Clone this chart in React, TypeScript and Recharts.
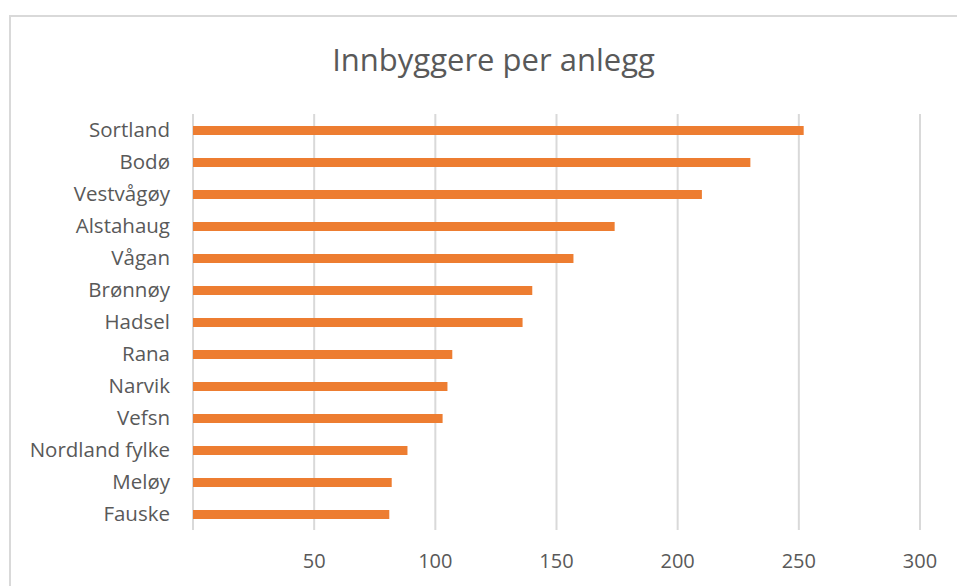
import { Bar, BarChart, CartesianGrid, XAxis, YAxis } from "recharts";

const places = [
  "Sortland",
  "Bodø",
  "Vestvågøy",
  "Alstahaug",
  "Vågan",
  "Brønnøy",
  "Hadsel",
  "Rana",
  "Narvik",
  "Vefsn",
  "Nordland fylke",
  "Meløy",
  "Fauske",
];
const residentsPerFacility = [252, 230, 210, 174, 157, 140, 136, 107, 105, 103, 88.5, 82, 81];
const xTicks = [0, 50, 100, 150, 200, 250, 300];

const data = places.map((name, i) => ({ name, value: residentsPerFacility[i] }));

const textColor = "#595959";
const font = "'Open Sans', sans-serif";

export default function App() {
  return (
    <div style={{ position: "absolute", left: 0, top: 0, width: 957, height: 586, background: "#fff", overflow: "hidden", fontFamily: font }}>
      <div
        style={{
          position: "absolute",
          left: 9,
          top: 15,
          width: 960,
          height: 600,
          borderLeft: "2px solid #d9d9d9",
          borderTop: "2px solid #d9d9d9",
        }}
      />
      <div
        style={{
          position: "absolute",
          left: 0,
          top: 40,
          width: 987,
          textAlign: "center",
          fontSize: 31,
          color: textColor,
          lineHeight: "38px",
        }}
      >
        Innbyggere per anlegg
      </div>
      <div style={{ position: "absolute", left: 0, top: 0 }}>
        <BarChart
          width={957}
          height={586}
          data={data}
          layout="vertical"
          margin={{ top: 114, right: 37, left: 0, bottom: 0 }}
          barSize={9}
        >
          <CartesianGrid horizontal={false} stroke="#d9d9d9" strokeWidth={2} verticalValues={xTicks} />
          <XAxis
            type="number"
            domain={[0, 300]}
            ticks={xTicks}
            tickFormatter={(v: number) => (v === 0 ? "" : String(v))}
            axisLine={false}
            tickLine={false}
            tickMargin={18}
            height={56}
            tick={{ fill: textColor, fontSize: 20, fontFamily: font }}
          />
          <YAxis
            type="category"
            dataKey="name"
            width={193}
            axisLine={false}
            tickLine={false}
            tickMargin={17}
            interval={0}
            tick={{ fill: textColor, fontSize: 20.5, fontFamily: font }}
          />
          <Bar dataKey="value" fill="#ED7D31" isAnimationActive={false} />
        </BarChart>
      </div>
    </div>
  );
}
